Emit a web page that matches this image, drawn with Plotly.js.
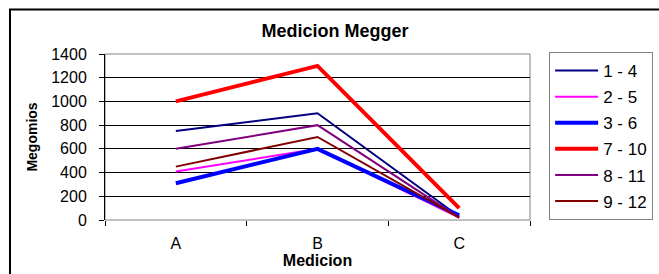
<!DOCTYPE html>
<html><head><meta charset="utf-8">
<script src="https://cdn.plot.ly/plotly-3.0.1.min.js"></script>
<style>html,body{margin:0;padding:0;background:#fff}#chart{width:659px;height:274px}</style>
</head><body><div id="chart"></div>
<script>
const categories = ['A', 'B', 'C'];
const seriesNames = ['1 - 4', '2 - 5', '3 - 6', '7 - 10', '8 - 11', '9 - 12'];
const s1_4  = [750, 900, 30];
const s2_5  = [410, 600, 20];
const s3_6  = [310, 600, 40];
const s7_10 = [1000, 1300, 100];
const s8_11 = [600, 800, 20];
const s9_12 = [450, 700, 20];
const yTicks = [0, 200, 400, 600, 800, 1000, 1200, 1400];

const values = [s1_4, s2_5, s3_6, s7_10, s8_11, s9_12];
const colors = ['#000080', '#FF00FF', '#0000FF', '#FF0000', '#800080', '#800000'];
const widths = [2, 2, 4, 4, 2, 2];

const traces = values.map((v, i) => ({
  type: 'scatter', mode: 'lines', x: categories, y: v, name: seriesNames[i],
  legendgroup: 'g' + i,
  line: {color: colors[i], width: widths[i]}
}));

const font = 'Arial, "Liberation Sans", sans-serif';
const layout = {
  width: 659, height: 274,
  margin: {l: 105, r: 129, t: 54, b: 54, autoexpand: false},
  paper_bgcolor: '#fff', plot_bgcolor: '#fff',
  font: {family: font, size: 16, color: '#000'},
  title: {text: '<b>Medicion Megger</b>', font: {family: font, size: 18, color: '#000'},
          x: 335/659, xref: 'container', xanchor: 'center', y: 1 - 31/274, yanchor: 'middle'},
  showlegend: true,
  legend: {x: 1.045, xanchor: 'left', y: 1.012, yanchor: 'top',
           maxheight: 230, itemwidth: 43,
           bordercolor: '#808080', borderwidth: 1, bgcolor: '#fff',
           font: {family: font, size: 17, color: '#000'},
           traceorder: 'grouped', tracegroupgap: 1},
  xaxis: {type: 'category', categoryorder: 'array', categoryarray: categories,
          range: [-0.5, 2.5], tickson: 'boundaries', ticks: 'outside', ticklen: 5,
          tickcolor: '#000', showgrid: false, showline: false, zeroline: false,
          tickfont: {size: 16}, ticklabelstandoff: 12,
          title: {text: '<b>Medicion</b>', font: {size: 16}, standoff: 2}},
  yaxis: {range: [0, 1400], tickvals: yTicks, ticktext: yTicks.map(String),
          ticks: 'outside', ticklen: 5, tickcolor: '#000',
          showgrid: true, gridcolor: '#000', gridwidth: 1,
          showline: true, linecolor: '#000', linewidth: 1, zeroline: false,
          tickfont: {size: 16}, ticklabelstandoff: 9,
          title: {text: '<b>Megomios</b>', font: {size: 14}, standoff: 10}},
  shapes: [
    {type: 'rect', xref: 'paper', yref: 'paper', x0: 0, x1: 1, y0: 0, y1: 1,
     line: {color: '#808080', width: 1}, layer: 'below'},
    {type: 'rect', xref: 'paper', yref: 'paper', x0: (10 - 105) / 425, x1: 1.5,
     y0: -0.5, y1: (220 - 9.5) / 166, line: {color: '#000', width: 2}}
  ]
};
Plotly.newPlot('chart', traces, layout, {displayModeBar: false, staticPlot: true});
</script></body></html>
